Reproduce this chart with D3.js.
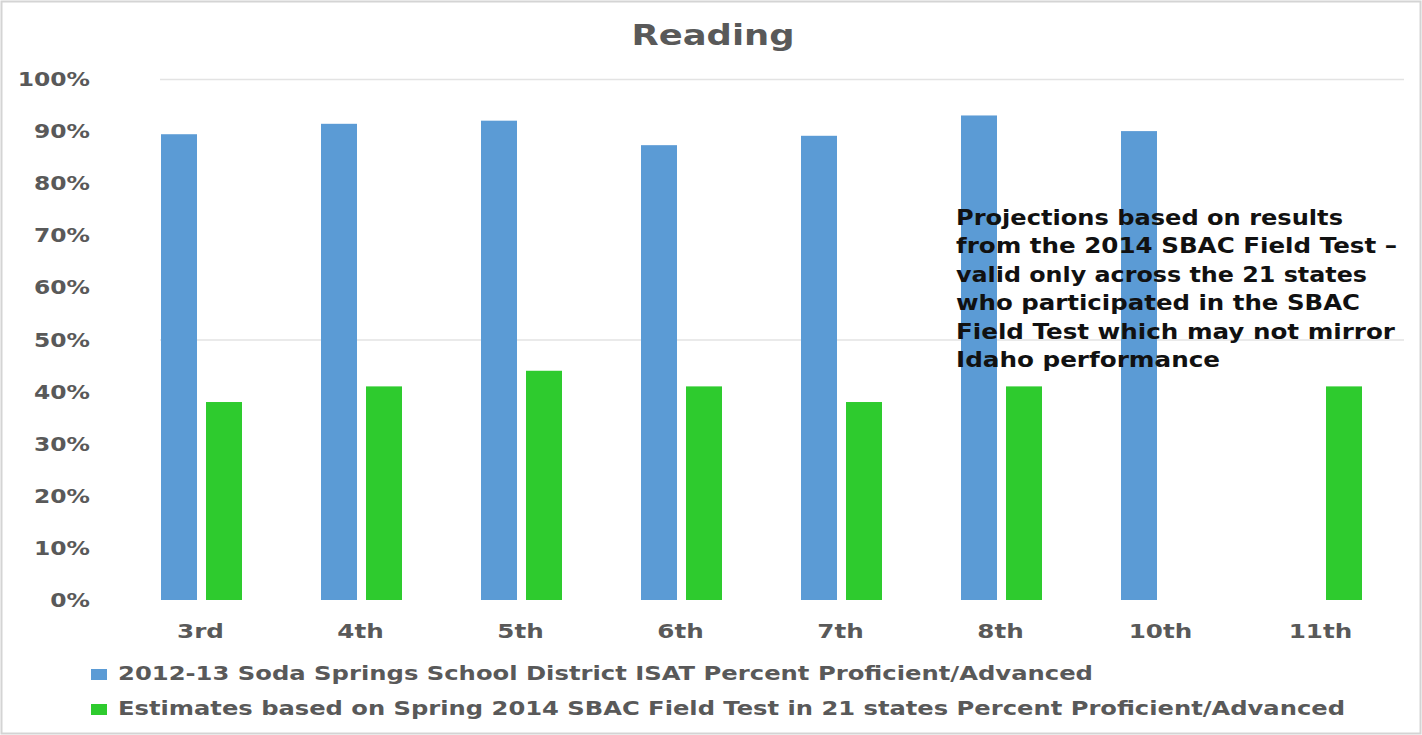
<!DOCTYPE html>
<html>
<head>
<meta charset="utf-8">
<script src="https://cdn.jsdelivr.net/npm/d3@7"></script>
<style>
  html, body { margin: 0; padding: 0; background: #fff; }
  svg { display: block; }
  text { font-family: "DejaVu Sans", Verdana, sans-serif; font-weight: bold; }
</style>
</head>
<body>
<svg id="chart" width="1422" height="735"></svg>
<script>
// ---- data ----
const categories = ["3rd", "4th", "5th", "6th", "7th", "8th", "10th", "11th"];
const seriesNames = [
  "2012-13 Soda Springs School District ISAT Percent Proficient/Advanced",
  "Estimates based on Spring 2014 SBAC Field Test in 21 states Percent Proficient/Advanced"
];
const isatValues = [89.4, 91.4, 92.0, 87.3, 89.1, 93.0, 90.0, null];
const sbacValues = [38, 41, 44, 41, 38, 41, null, 41];
const yTicks = [0, 10, 20, 30, 40, 50, 60, 70, 80, 90, 100];
const gridTicks = [50, 100];
const titleText = "Reading";
const noteLines = [
  "Projections based on results",
  "from the 2014 SBAC Field Test \u2013",
  "valid only across the 21 states",
  "who participated in the SBAC",
  "Field Test which may not mirror",
  "Idaho performance"
];

// ---- layout ----
const colors = ["#5b9bd5", "#2ecb2e"];
const textGray = "#595959";
const stretch = 1.23;

const svg = d3.select("#chart");

// frame
svg.append("rect").attr("x", 1.5).attr("y", 1.5).attr("width", 1419).attr("height", 732)
  .attr("fill", "none").attr("stroke", "#d4d4d4").attr("stroke-width", 2);

const x0 = d3.scaleBand().domain(categories).range([121.5, 1401.5]).padding(0);
const x1 = d3.scaleBand().domain([0, 1]).range([0, 81]).paddingInner(0.2).paddingOuter(0);
const y = d3.scaleLinear().domain([0, 100]).range([600, 79]);

function stretchText(sel, k) {
  sel.each(function () {
    const w = this.getComputedTextLength();
    d3.select(this).attr("textLength", w * k).attr("lengthAdjust", "spacingAndGlyphs");
  });
}
function fitText(sel, w) {
  sel.attr("textLength", w).attr("lengthAdjust", "spacingAndGlyphs");
}

// gridlines
svg.append("g").selectAll("line").data(gridTicks).join("line")
  .attr("x1", 160).attr("x2", 1404)
  .attr("y1", d => y(d) + 0.5).attr("y2", d => y(d) + 0.5)
  .attr("stroke", "#e3e3e3").attr("stroke-width", 1.5);

// title
svg.append("text").attr("x", 713).attr("y", 45).attr("text-anchor", "middle")
  .attr("font-size", 28).attr("fill", textGray).text(titleText)
  .call(fitText, 163);

// y labels
svg.append("g").selectAll("text").data(yTicks).join("text")
  .attr("x", 90).attr("y", d => y(d) + 7).attr("text-anchor", "end")
  .attr("font-size", 19).attr("fill", textGray)
  .text(d => d + "%")
  .call(stretchText, stretch);

// bars
const series = [isatValues, sbacValues];
const groups = svg.append("g").selectAll("g").data(categories).join("g")
  .attr("transform", d => `translate(${x0(d) + x0.bandwidth() / 2 - 40.5},0)`);
groups.selectAll("rect")
  .data((d, i) => series.map((s, si) => ({ si, v: s[i] })).filter(e => e.v != null))
  .join("rect")
  .attr("x", e => x1(e.si))
  .attr("width", x1.bandwidth())
  .attr("y", e => y(e.v))
  .attr("height", e => y(0) - y(e.v))
  .attr("fill", e => colors[e.si]);

// x labels
svg.append("g").selectAll("text").data(categories).join("text")
  .attr("x", d => x0(d) + x0.bandwidth() / 2 - 1)
  .attr("y", 638).attr("text-anchor", "middle")
  .attr("font-size", 20).attr("fill", textGray)
  .text(d => d)
  .call(stretchText, stretch);

// annotation
const noteWidths = [387, 441, 411, 404, 439, 264];
svg.append("g").selectAll("text").data(noteLines).join("text")
  .attr("x", 956).attr("y", (d, i) => 225 + i * 28.4)
  .attr("font-size", 21).attr("fill", "#111")
  .text(d => d)
  .each(function (d, i) { d3.select(this).call(fitText, noteWidths[i]); });

// legend
const legendY = [680, 715];
const legendW = [975, 1227];
const leg = svg.append("g").selectAll("g").data(seriesNames).join("g");
leg.append("rect").attr("x", 91).attr("y", (d, i) => legendY[i] - 11)
  .attr("width", 16).attr("height", 11).attr("fill", (d, i) => colors[i]);
leg.append("text").attr("x", 118).attr("y", (d, i) => legendY[i])
  .attr("font-size", 20).attr("fill", textGray).text(d => d)
  .each(function (d, i) { d3.select(this).call(fitText, legendW[i]); });
</script>
</body>
</html>
